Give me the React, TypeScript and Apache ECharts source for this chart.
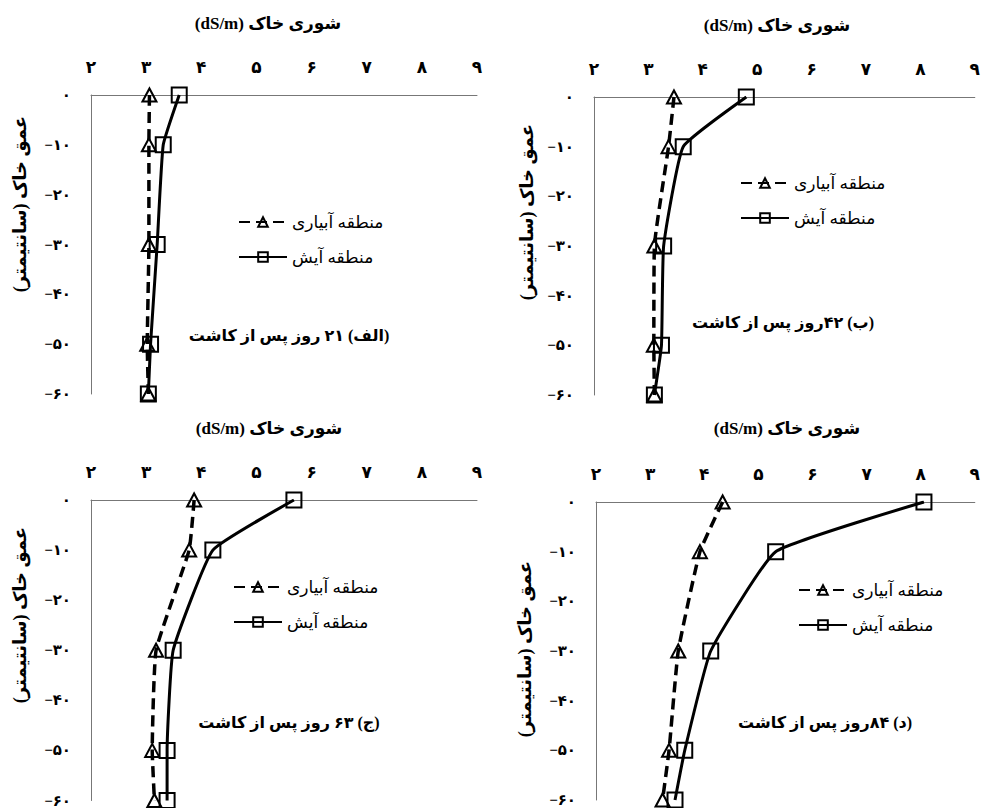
import React, { useEffect, useRef } from "react";
import * as echarts from "echarts";

// ---- data ----
const depths = [0, -10, -30, -50, -60];
const irrigatedA = [3.06, 3.05, 3.05, 3.02, 3.04];
const fallowA = [3.6, 3.31, 3.2, 3.08, 3.04];
const irrigatedB = [3.47, 3.37, 3.11, 3.1, 3.11];
const fallowB = [4.8, 3.64, 3.28, 3.24, 3.11];
const irrigatedC = [3.87, 3.78, 3.18, 3.11, 3.15];
const fallowC = [5.68, 4.21, 3.49, 3.38, 3.38];
const irrigatedD = [4.34, 3.92, 3.52, 3.35, 3.23];
const fallowD = [8.06, 5.32, 4.12, 3.64, 3.46];

const irrigatedName = "منطقه آبیاری";
const fallowName = "منطقه آیش";
const xTitle = "شوری خاک (dS/m)";
const yTitle = "عمق خاک (سانتیمتر)";
const panelLabels = [
  "(الف) ۲۱ روز پس از کاشت",
  "(ب) ۴۲روز پس از کاشت",
  "(ج) ۶۳ روز پس از کاشت",
  "(د) ۸۴روز پس از کاشت",
];
const xMin = 2;
const xMax = 9;
const yMin = -60;
const yMax = 0;

const irrigatedSets = [irrigatedA, irrigatedB, irrigatedC, irrigatedD];
const fallowSets = [fallowA, fallowB, fallowC, fallowD];

// ---- layout ----
const layout = [
  { grid: { left: 91, top: 95, width: 386, height: 299 }, title: [268, 25], yName: [20, 204], label: [289, 335], legend: [238, 212] },
  { grid: { left: 594, top: 97, width: 388, height: 298 }, title: [777, 27], yName: [527, 212], label: [783, 322], legend: [740, 173] },
  { grid: { left: 91, top: 500, width: 386, height: 302 }, title: [269, 430], yName: [20, 615], label: [289, 722], legend: [233, 577] },
  { grid: { left: 596, top: 502, width: 388, height: 298 }, title: [787, 430], yName: [525, 649], label: [825, 722], legend: [798, 580] },
];

const FONT = "'Times New Roman', 'Liberation Serif', 'DejaVu Sans', serif";
const RLE = "\u202B";
const PDF = "\u202C";
const rtl = (s: string) => RLE + s + PDF;

const faDigits = "۰۱۲۳۴۵۶۷۸۹";
const toFa = (v: number) =>
  String(v).replace(/[0-9]/g, (d) => faDigits[Number(d)]).replace("-", "\u2212");

export default function App() {
  const ref = useRef<HTMLDivElement>(null);

  useEffect(() => {
    if (!ref.current) return;
    const chart = echarts.init(ref.current, undefined, { renderer: "svg" });

    const grids: any[] = [];
    const xAxes: any[] = [];
    const yAxes: any[] = [];
    const series: any[] = [];
    const legends: any[] = [];
    const titles: any[] = [];
    const graphics: any[] = [];

    layout.forEach((p, i) => {
      grids.push({ ...p.grid, containLabel: false });
      xAxes.push({
        type: "value",
        gridIndex: i,
        position: "top",
        min: xMin,
        max: xMax,
        interval: 1,
        axisLine: { show: true, onZero: false, lineStyle: { color: "#777", width: 1 } },
        axisTick: { show: false },
        splitLine: { show: false },
        axisLabel: {
          margin: 19,
          color: "#000",
          fontFamily: FONT,
          fontWeight: "bold",
          fontSize: 17,
          formatter: (v: number) => toFa(v),
        },
      });
      yAxes.push({
        type: "value",
        gridIndex: i,
        min: yMin,
        max: yMax,
        interval: 10,
        axisLine: { show: true, onZero: false, lineStyle: { color: "#777", width: 1 } },
        axisTick: { show: false },
        splitLine: { show: false },
        axisLabel: {
          margin: 20,
          color: "#000",
          fontFamily: FONT,
          fontWeight: "bold",
          fontSize: 15,
          formatter: (v: number) => toFa(v),
        },
      });
      series.push({
        type: "line",
        name: irrigatedName,
        xAxisIndex: i,
        yAxisIndex: i,
        data: irrigatedSets[i].map((v, k) => [v, depths[k]]),
        smooth: 0.12,
        symbol: "triangle",
        symbolSize: [14, 13],
        lineStyle: { color: "#000", width: 3.5, type: [11, 6] },
        itemStyle: { color: "rgba(0,0,0,0)", borderColor: "#000", borderWidth: 2 },
        z: 2,
      });
      series.push({
        type: "line",
        name: fallowName,
        xAxisIndex: i,
        yAxisIndex: i,
        data: fallowSets[i].map((v, k) => [v, depths[k]]),
        smooth: 0.12,
        symbol: "rect",
        symbolSize: 15,
        lineStyle: { color: "#000", width: 3 },
        itemStyle: { color: "rgba(0,0,0,0)", borderColor: "#000", borderWidth: 2 },
        z: 3,
      });
      legends.push({
        data: [irrigatedName, fallowName],
        orient: "vertical",
        left: p.legend[0],
        top: p.legend[1],
        padding: 0,
        itemWidth: 48,
        itemHeight: 12,
        itemGap: 15,
        selectedMode: false,
        textStyle: { color: "#000", fontFamily: FONT, fontSize: 17, lineHeight: 20 },
      });
      titles.push({
        text: rtl(xTitle),
        left: p.title[0],
        top: p.title[1] - 10,
        textAlign: "center",
        padding: 0,
        textStyle: { color: "#000", fontFamily: FONT, fontWeight: "bold", fontSize: 17 },
      });
      graphics.push({
        type: "text",
        x: p.yName[0],
        y: p.yName[1],
        rotation: Math.PI / 2,
        style: {
          text: rtl(yTitle),
          fill: "#000",
          font: `bold 18px ${FONT}`,
          align: "center",
          verticalAlign: "middle",
        },
      });
      graphics.push({
        type: "text",
        x: p.label[0],
        y: p.label[1],
        style: {
          text: rtl(panelLabels[i]),
          fill: "#000",
          font: `bold 16px ${FONT}`,
          align: "center",
          verticalAlign: "middle",
        },
      });
    });

    chart.setOption({
      animation: false,
      backgroundColor: "#fff",
      title: titles,
      grid: grids,
      xAxis: xAxes,
      yAxis: yAxes,
      legend: legends,
      series,
      graphic: graphics,
    });

    return () => chart.dispose();
  }, []);

  return (
    <div
      ref={ref}
      style={{ position: "fixed", left: 0, top: 0, width: 983, height: 808, background: "#fff" }}
    />
  );
}
